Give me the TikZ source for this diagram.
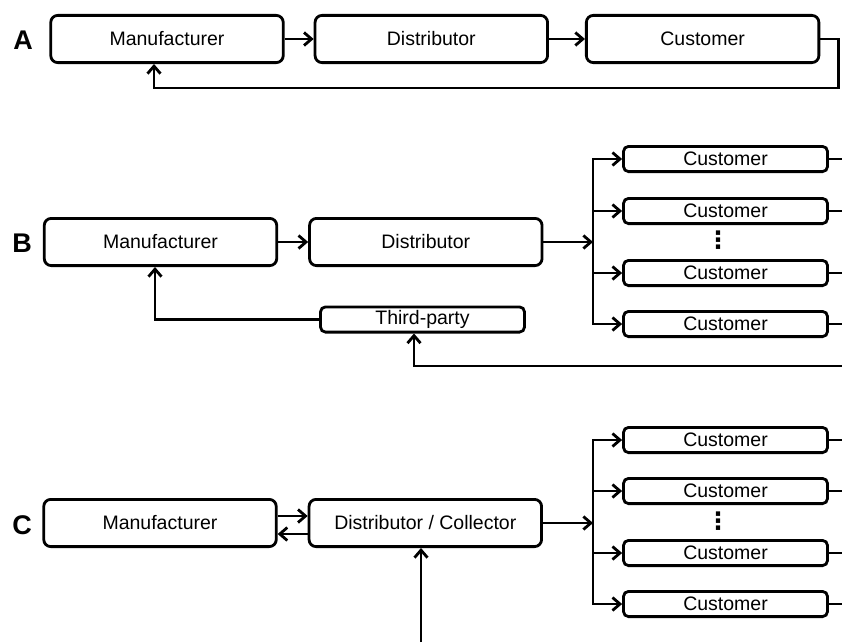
\documentclass[tikz,border=0pt]{standalone}
\usepackage{fontspec}
\setmainfont{Liberation Sans}
\newfontfamily\symfont{DejaVu Sans}
\usetikzlibrary{positioning,arrows.meta}

\begin{document}
\begin{tikzpicture}[x=1pt, y=-1pt,
    bigbox/.style={rectangle, draw, line width=2.8pt, rounded corners=7pt, minimum width=232.5pt, minimum height=47.2pt, inner sep=0pt, font=\fontsize{19.5}{22}\selectfont},
    smallbox/.style={rectangle, draw, line width=2.8pt, rounded corners=5pt, minimum width=204pt, minimum height=25.2pt, inner sep=0pt, font=\fontsize{19.5}{22}\selectfont},
    panel/.style={font=\bfseries\fontsize{27}{30}\selectfont},
    vdotsnode/.style={font=\symfont\bfseries\fontsize{24}{24}\selectfont, inner sep=0pt},
    link/.style={line width=2.8pt, line cap=rect},
    arr/.style={line width=2.8pt, -{Straight Barb[length=7.5pt,width=13pt]}}]

        \useasboundingbox (0,0) rectangle (842,642);
        \coordinate (rim) at (842,0);

        % A
        \node[panel] (labA) at (23,40) {A};
        \node[bigbox] (manA) at (167,39) {Manufacturer};
        \node[bigbox] (distA) [right=29pt of manA] {Distributor};
        \node[bigbox] (custA) [right=36pt of distA] {Customer};
        \coordinate (retA) at (154,88);

        \draw[arr] (manA) -- (distA);
        \draw[arr] (distA) -- (custA);
        \draw[arr] (custA.east) -- ++(18,0) |- (retA) -- (retA |- manA.south);

        % B
        \node[panel] (labB) at (22,243) {B};
        \node[bigbox] (manB) at (160.5,242) {Manufacturer};
        \node[bigbox] (distB) [right=30pt of manB] {Distributor};
        \node[smallbox] (third) at (422.5,319.5) {Third-party};
        \node[smallbox] (cB1) at (725.5,159) {Customer};
        \node[smallbox] (cB2) [below=24pt of cB1] {Customer};
        \node[smallbox] (cB3) [below=34pt of cB2] {Customer};
        \node[smallbox] (cB4) [below=23pt of cB3] {Customer};
        \node[vdotsnode] (dotsB) at (718,240) {⋮};
        \coordinate (brB) at (593,242);
        \coordinate (edgeB) at (842,366);

        \draw[arr] (manB) -- (distB);
        \draw[arr] (distB) -- (brB);
        \draw[link] (brB |- cB1) -- (brB |- cB4);
        \foreach \c in {cB1,cB2,cB3,cB4} {
            \draw[arr] (brB |- \c) -- (\c);
            \draw[link] (\c.east) -- (rim |- \c);
        }
        \draw[arr] (third) -| ([xshift=-5.5pt]manB.south);
        \draw[arr] (edgeB) -| ([xshift=-8.5pt]third.south);

        % C
        \node[panel] (labC) at (22,525) {C};
        \node[bigbox] (manC) at (160,523) {Manufacturer};
        \node[bigbox] (distC) [right=30pt of manC] {Distributor / Collector};
        \node[smallbox] (cC1) at (725.5,440) {Customer};
        \node[smallbox] (cC2) [below=23pt of cC1] {Customer};
        \node[smallbox] (cC3) [below=34pt of cC2] {Customer};
        \node[smallbox] (cC4) [below=23pt of cC3] {Customer};
        \node[vdotsnode] (dotsC) at (718,521.5) {⋮};
        \coordinate (brC) at (593,523);
        \coordinate (edgeC) at (421,642);

        \draw[arr] ([yshift=7pt]manC.east) -- ([yshift=7pt]distC.west);
        \draw[arr] ([yshift=-11pt]distC.west) -- ([yshift=-11pt]manC.east);
        \draw[arr] (distC) -- (brC);
        \draw[link] (brC |- cC1) -- (brC |- cC4);
        \foreach \c in {cC1,cC2,cC3,cC4} {
            \draw[arr] (brC |- \c) -- (\c);
            \draw[link] (\c.east) -- (rim |- \c);
        }
        \draw[arr] (edgeC) -- (edgeC |- distC.south);

\end{tikzpicture}
\end{document}
